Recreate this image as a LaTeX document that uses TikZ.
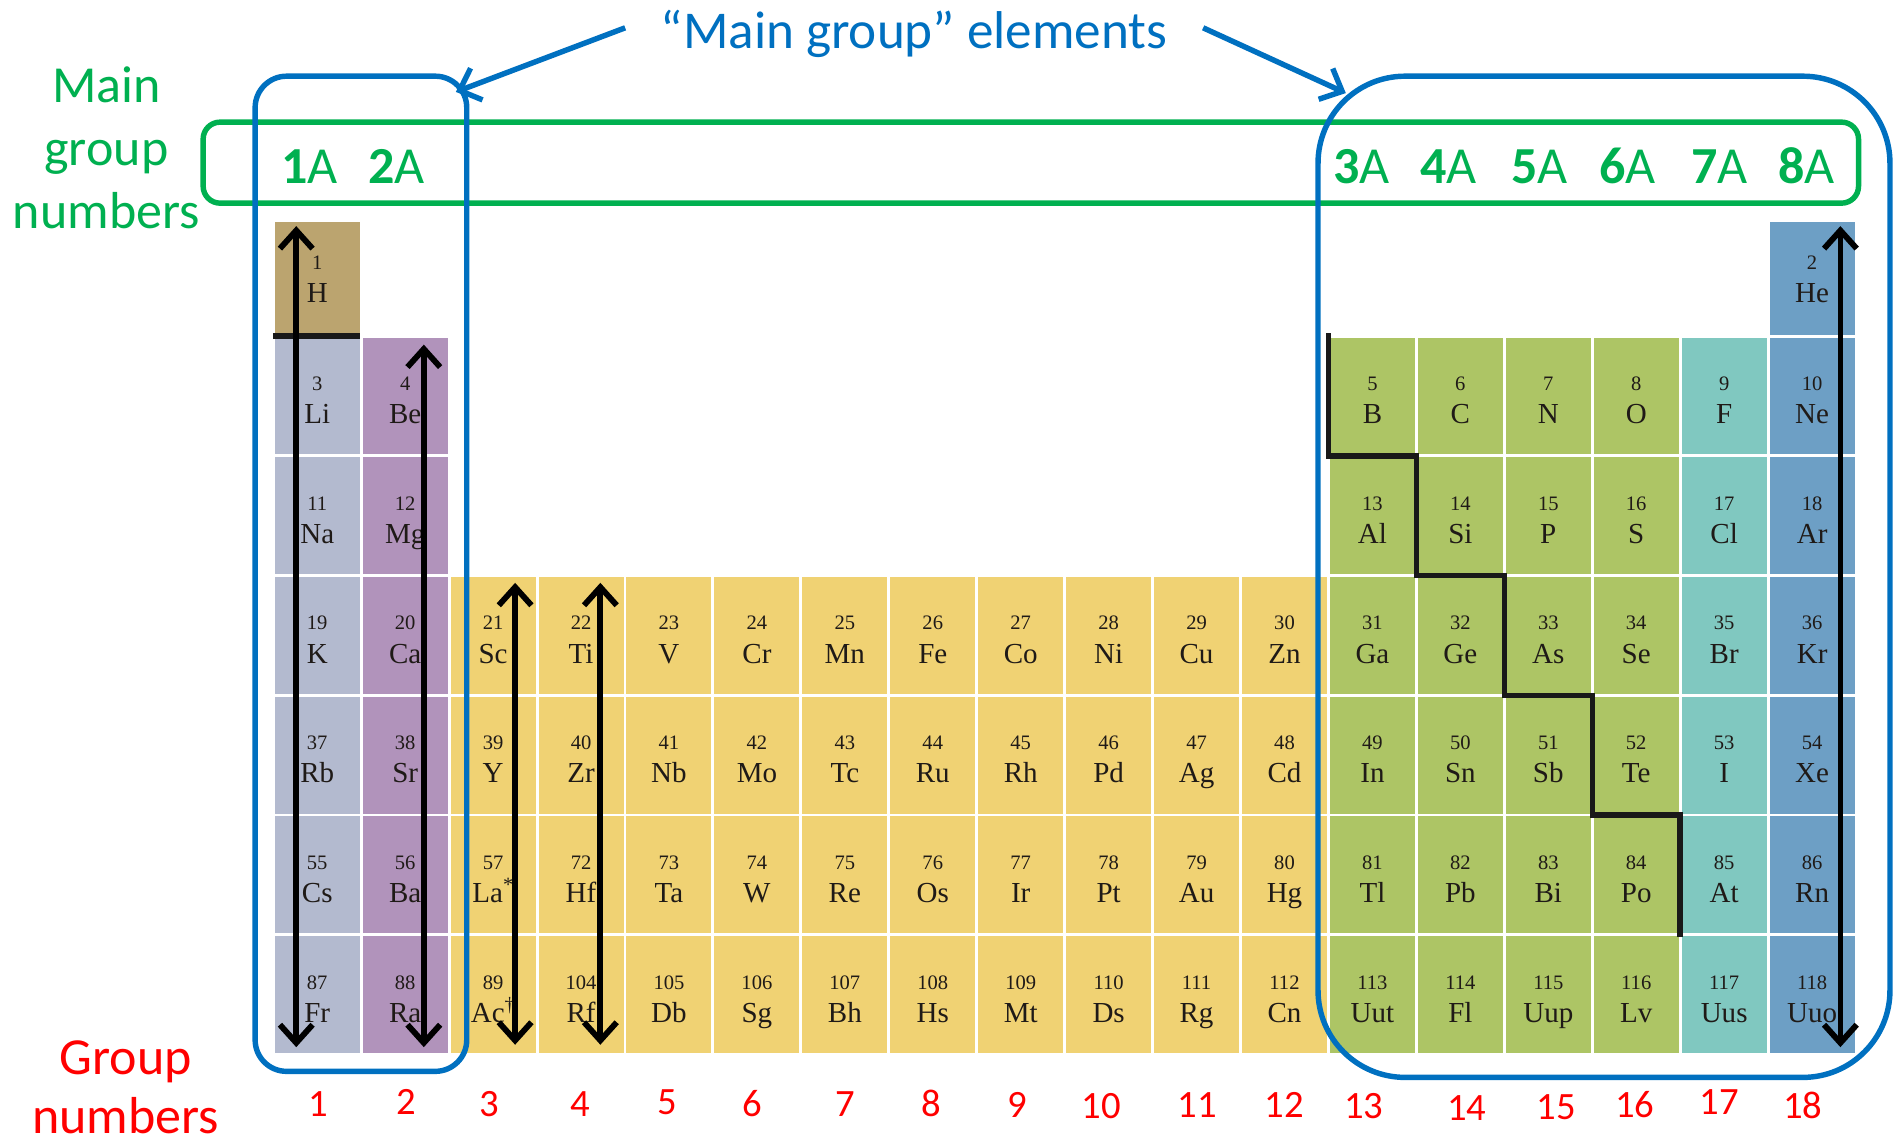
\documentclass[tikz,border=0pt]{standalone}
\usepackage{fontspec}
\setmainfont{Liberation Serif}
\newfontfamily\calibri{Carlito}
\usetikzlibrary{arrows.meta}
\definecolor{hcol}{HTML}{BBA46F}
\definecolor{g1col}{HTML}{B3BACF}
\definecolor{g2col}{HTML}{B193BB}
\definecolor{tmcol}{HTML}{F0D273}
\definecolor{grcol}{HTML}{ADC565}
\definecolor{halcol}{HTML}{80C8C0}
\definecolor{ngcol}{HTML}{6D9FC5}
\definecolor{mgblue}{HTML}{0070C0}
\definecolor{mggreen}{HTML}{00B050}
\definecolor{mgred}{HTML}{FF0000}
\definecolor{eltxt}{HTML}{1F1A17}

\newcommand\elem[5]{%
  \pgfmathsetmacro\elTop{ifthenelse(#2==1,182,278+(#2-2)*99)}%
  \pgfmathsetmacro\elH{ifthenelse(#2==1,96,99)}%
  \pgfmathsetmacro\elOff{ifthenelse(#2==1,-4,0)}%
  \pgfmathsetmacro\elX{226+(#1-1)*72.72+36.36}%
  \node[cell, fill=#5, minimum height=\elH pt] (e#3) at (\elX,\elTop+\elH/2) {};
  \node[elnum] (n#3) at (\elX,\elTop+45+\elOff) {#3};
  \node[elsym] (s#3) at (\elX,\elTop+72.5+\elOff) {#4};
}

\begin{document}
\begin{tikzpicture}[x=1pt,y=-1pt,
  cell/.style={rectangle, draw=white, line width=2.4pt, minimum width=72.72pt, inner sep=0pt},
  elnum/.style={anchor=base, inner sep=0pt, text=eltxt, font=\fontsize{17}{20}\selectfont},
  elsym/.style={anchor=base, inner sep=0pt, text=eltxt, font=\fontsize{24}{28}\selectfont},
  dblarrow/.style={line width=4.8pt, {Straight Barb[length=15pt,width=27pt]}-{Straight Barb[length=15pt,width=27pt]}},
  bluearrow/.style={draw=mgblue, line width=4.5pt, -{Straight Barb[length=15pt,width=28pt]}},
  grpbox/.style={draw=mgblue, line width=4.5pt, rectangle, inner sep=0pt},
  greenlbl/.style={anchor=base, inner sep=0pt, text=mggreen, font=\calibri\fontsize{43}{52}\selectfont},
  redlbl/.style={anchor=base, inner sep=0pt, text=mgred, font=\calibri\fontsize{43}{52}\selectfont},
  rednum/.style={anchor=base, inner sep=0pt, text=mgred, font=\calibri\fontsize{32}{38}\selectfont},
  mglbl/.style={anchor=base, inner sep=0pt, text=mggreen, font=\calibri\fontsize{43}{52}\selectfont},
  stair/.style={draw=black!90, line width=4.5pt, line cap=rect}
]
\useasboundingbox (0,0) rectangle (1568,946);

% ---- element cells ----
\foreach \eC/\eN/\eS/\eK in {1/1/H/hcol, 18/2/He/ngcol}
  {\elem{\eC}{1}{\eN}{\eS}{\eK}}
\foreach \eC/\eN/\eS/\eK in {1/3/Li/g1col, 2/4/Be/g2col, 13/5/B/grcol, 14/6/C/grcol, 15/7/N/grcol, 16/8/O/grcol, 17/9/F/halcol, 18/10/Ne/ngcol}
  {\elem{\eC}{2}{\eN}{\eS}{\eK}}
\foreach \eC/\eN/\eS/\eK in {1/11/Na/g1col, 2/12/Mg/g2col, 13/13/Al/grcol, 14/14/Si/grcol, 15/15/P/grcol, 16/16/S/grcol, 17/17/Cl/halcol, 18/18/Ar/ngcol}
  {\elem{\eC}{3}{\eN}{\eS}{\eK}}
\foreach \eC/\eN/\eS/\eK in {1/19/K/g1col, 2/20/Ca/g2col, 3/21/Sc/tmcol, 4/22/Ti/tmcol, 5/23/V/tmcol, 6/24/Cr/tmcol, 7/25/Mn/tmcol, 8/26/Fe/tmcol, 9/27/Co/tmcol, 10/28/Ni/tmcol, 11/29/Cu/tmcol, 12/30/Zn/tmcol, 13/31/Ga/grcol, 14/32/Ge/grcol, 15/33/As/grcol, 16/34/Se/grcol, 17/35/Br/halcol, 18/36/Kr/ngcol}
  {\elem{\eC}{4}{\eN}{\eS}{\eK}}
\foreach \eC/\eN/\eS/\eK in {1/37/Rb/g1col, 2/38/Sr/g2col, 3/39/Y/tmcol, 4/40/Zr/tmcol, 5/41/Nb/tmcol, 6/42/Mo/tmcol, 7/43/Tc/tmcol, 8/44/Ru/tmcol, 9/45/Rh/tmcol, 10/46/Pd/tmcol, 11/47/Ag/tmcol, 12/48/Cd/tmcol, 13/49/In/grcol, 14/50/Sn/grcol, 15/51/Sb/grcol, 16/52/Te/grcol, 17/53/I/halcol, 18/54/Xe/ngcol}
  {\elem{\eC}{5}{\eN}{\eS}{\eK}}
\foreach \eC/\eN/\eS/\eK in {1/55/Cs/g1col, 2/56/Ba/g2col, 3/57/La\textsuperscript{*}/tmcol, 4/72/Hf/tmcol, 5/73/Ta/tmcol, 6/74/W/tmcol, 7/75/Re/tmcol, 8/76/Os/tmcol, 9/77/Ir/tmcol, 10/78/Pt/tmcol, 11/79/Au/tmcol, 12/80/Hg/tmcol, 13/81/Tl/grcol, 14/82/Pb/grcol, 15/83/Bi/grcol, 16/84/Po/grcol, 17/85/At/halcol, 18/86/Rn/ngcol}
  {\elem{\eC}{6}{\eN}{\eS}{\eK}}
\foreach \eC/\eN/\eS/\eK in {1/87/Fr/g1col, 2/88/Ra/g2col, 3/89/Ac\textsuperscript{\textdagger}/tmcol, 4/104/Rf/tmcol, 5/105/Db/tmcol, 6/106/Sg/tmcol, 7/107/Bh/tmcol, 8/108/Hs/tmcol, 9/109/Mt/tmcol, 10/110/Ds/tmcol, 11/111/Rg/tmcol, 12/112/Cn/tmcol, 13/113/Uut/grcol, 14/114/Fl/grcol, 15/115/Uup/grcol, 16/116/Lv/grcol, 17/117/Uus/halcol, 18/118/Uuo/ngcol}
  {\elem{\eC}{7}{\eN}{\eS}{\eK}}

% ---- black lines ----
\draw[stair, line cap=butt] (226,278) -- (298,278);
\draw[stair] (1098.6,278) -- (1098.6,377) -- (1171.3,377) -- (1171.3,476) -- (1244.0,476) -- (1244.0,575) -- (1316.8,575) -- (1316.8,674) -- (1389.5,674) -- (1389.5,773);

% ---- vertical double arrows ----
\coordinate (a1t) at (245,187);  \coordinate (a1b) at (245,866);
\coordinate (a2t) at (350.5,285); \coordinate (a2b) at (350.5,866);
\coordinate (a3t) at (426,482);  \coordinate (a3b) at (426,864);
\coordinate (a4t) at (496.5,482);  \coordinate (a4b) at (496.5,864);
\coordinate (a18t) at (1522,187); \coordinate (a18b) at (1522,866);
\draw[dblarrow] (a1t) -- (a1b);
\draw[dblarrow] (a2t) -- (a2b);
\draw[dblarrow] (a3t) -- (a3b);
\draw[dblarrow] (a4t) -- (a4b);
\draw[dblarrow] (a18t) -- (a18b);

% ---- boxes ----
\node[draw=mggreen, line width=4.5pt, rectangle, rounded corners=14pt, minimum width=1369pt, minimum height=67pt, inner sep=0pt] (gbox) at (852.5,134.5) {};
\node[grpbox, rounded corners=26pt, minimum width=175pt, minimum height=823pt] (lbox) at (298.5,474.5) {};
\node[grpbox, rounded corners=72pt, minimum width=473pt, minimum height=828pt] (rbox) at (1326.5,477) {};

% ---- title and blue arrows ----
\node[anchor=base, inner sep=0pt, text=mgblue, font=\calibri\fontsize{44}{52}\selectfont] (title) at (756,40) {“Main group” elements};
\coordinate (ls) at (517,23); \coordinate (lt) at (377,76);
\coordinate (rs) at (995,23); \coordinate (rt) at (1113,77);
\draw[bluearrow] (ls) -- (lt);
\draw[bluearrow] (rs) -- (rt);

% ---- main group numbers ----
\node[greenlbl] (mg1) at (88,85) {Main};
\node[greenlbl] (mg2) at (88,137) {group};
\node[greenlbl] (mg3) at (88,189) {numbers};
\foreach \gx/\gl in {256/1, 328/2, 1126/3, 1198/4, 1273/5, 1346/6, 1422/7, 1494/8}
  \node[mglbl] (ga\gl) at (\gx,152) {\textbf{\gl}A};

% ---- group numbers ----
\node[redlbl] (gn1) at (104,889) {Group};
\node[redlbl] (gn2) at (104,937) {numbers};
\foreach \gx/\gy/\gl in {263/923/1, 336/922/2, 405/923/3, 480/923/4, 552/922/5, 622/923/6, 699/923/7, 770/923/8, 841/924/9, 911/925/10, 990/924/11, 1062/924/12, 1128/925/13, 1213/927/14, 1287/926/15, 1352/924/16, 1422/922/17, 1491/925/18}
  \node[rednum] (r\gl) at (\gx,\gy) {\gl};
\end{tikzpicture}
\end{document}
